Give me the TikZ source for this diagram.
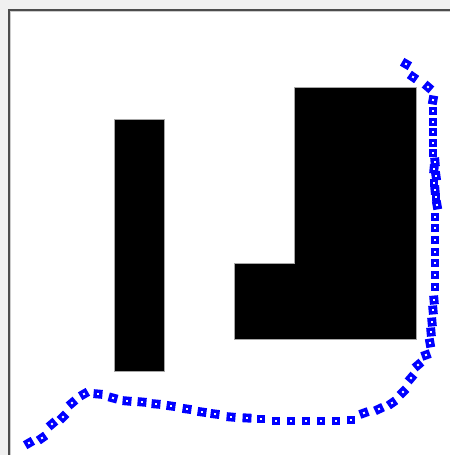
\documentclass[tikz,border=0pt]{standalone}
\begin{document}
\begin{tikzpicture}[x=1pt,y=-1pt,
  mk/.style={draw=blue,line width=3.3pt,fill=white,minimum size=5.6pt,inner sep=0pt,outer sep=0pt,rectangle},
  obst/.style={fill=black,draw=gray!70,line width=0.5pt}]
\useasboundingbox (0,0) rectangle (450,455);
\fill[gray!12] (0,0) rectangle (450,455);
\fill[white] (9,10) rectangle (450,455);
\draw[black!70,line width=1.2pt] (9,455) -- (9,10) -- (450,10);
\draw[gray!40,line width=0.6pt] (10.5,455) -- (10.5,11.5) -- (450,11.5);
% obstacles
\path[obst] (114,119) rectangle (164,371);
\path[obst] (294,87) -- (416,87) -- (416,339) -- (234,339) -- (234,263) -- (294,263) -- cycle;
% trajectory markers
\foreach \x/\y/\a [count=\i] in {
 406/64/-30, 413/77/-35, 428/87/-40, 433/100/-10, 433/111/0, 433/122/0, 433/132/0, 433/143/0,
 433/153/0, 435/162/5, 434/169/-5, 436/176/8, 434/183/0, 435/190/5, 436/197/0, 437/205/10,
 435/217/0, 435/228/0, 435/240/0, 435/252/0, 435/263/0, 435/275/0, 435/287/0, 434/300/5,
 433/310/5, 432/322/5, 431/332/5, 430/343/10, 426/355/20, 418/365/40, 411/378/50, 403/392/45,
 392/403/35, 379/409/25, 364/413/20, 351/420/0, 336/421/0, 321/421/0, 306/421/0, 291/421/0,
 276/421/0, 261/419/0, 247/418/-3, 231/417/-5, 215/414/-7, 202/412/-8, 187/409/-8, 171/406/-8,
 156/404/-5, 142/402/-5, 127/401/-5, 113/398/-15, 98/394/-5, 84/394/30, 72/403/40, 63/417/45,
 52/424/40, 42/438/35, 29/443/30}
  \node[mk,rotate=\a] (m\i) at (\x,\y) {};
\end{tikzpicture}
\end{document}
